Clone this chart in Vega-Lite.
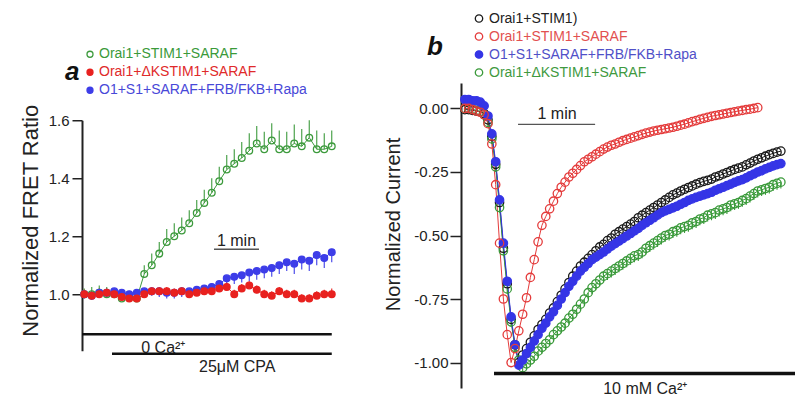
{
"$schema": "https://vega.github.io/schema/vega-lite/v6.json",
"background": "white",
"padding": {"left": 18, "top": 11, "right": 2, "bottom": 2},
"config": {"view": {"stroke": null}, "font": "Liberation Sans", "axis": {"labelFont": "Liberation Sans", "titleFont": "Liberation Sans"}, "legend": {"labelFont": "Liberation Sans", "labelLimit": 400}},
"bounds": "flush",
"center": true,
"spacing": 124,
"resolve": {"scale": {"stroke": "independent", "fill": "independent", "x": "independent", "y": "independent"}, "legend": {"stroke": "independent", "fill": "independent"}},
"datasets": {
"fret": [
{"s":"Orai1+STIM1+SARAF","t":3,"v":1.0,"eb":1.02},
{"s":"Orai1+STIM1+SARAF","t":13,"v":1.0,"eb":1.025},
{"s":"Orai1+STIM1+SARAF","t":23,"v":1.005,"eb":1.03},
{"s":"Orai1+STIM1+SARAF","t":33,"v":1.0,"eb":1.025},
{"s":"Orai1+STIM1+SARAF","t":43,"v":1.0,"eb":1.02},
{"s":"Orai1+STIM1+SARAF","t":53,"v":0.985,"eb":1.005},
{"s":"Orai1+STIM1+SARAF","t":63,"v":0.99,"eb":1.01},
{"s":"Orai1+STIM1+SARAF","t":73,"v":0.985,"eb":1.005},
{"s":"Orai1+STIM1+SARAF","t":83,"v":1.07,"eb":1.10},
{"s":"Orai1+STIM1+SARAF","t":93,"v":1.10,"eb":1.14},
{"s":"Orai1+STIM1+SARAF","t":103,"v":1.14,"eb":1.18},
{"s":"Orai1+STIM1+SARAF","t":113,"v":1.18,"eb":1.225},
{"s":"Orai1+STIM1+SARAF","t":123,"v":1.20,"eb":1.245},
{"s":"Orai1+STIM1+SARAF","t":133,"v":1.22,"eb":1.265},
{"s":"Orai1+STIM1+SARAF","t":143,"v":1.245,"eb":1.29},
{"s":"Orai1+STIM1+SARAF","t":153,"v":1.28,"eb":1.325},
{"s":"Orai1+STIM1+SARAF","t":163,"v":1.315,"eb":1.36},
{"s":"Orai1+STIM1+SARAF","t":173,"v":1.35,"eb":1.40},
{"s":"Orai1+STIM1+SARAF","t":183,"v":1.39,"eb":1.44},
{"s":"Orai1+STIM1+SARAF","t":193,"v":1.43,"eb":1.48},
{"s":"Orai1+STIM1+SARAF","t":203,"v":1.45,"eb":1.50},
{"s":"Orai1+STIM1+SARAF","t":213,"v":1.47,"eb":1.525},
{"s":"Orai1+STIM1+SARAF","t":223,"v":1.495,"eb":1.555},
{"s":"Orai1+STIM1+SARAF","t":233,"v":1.52,"eb":1.58},
{"s":"Orai1+STIM1+SARAF","t":243,"v":1.50,"eb":1.56},
{"s":"Orai1+STIM1+SARAF","t":253,"v":1.53,"eb":1.59},
{"s":"Orai1+STIM1+SARAF","t":263,"v":1.50,"eb":1.565},
{"s":"Orai1+STIM1+SARAF","t":273,"v":1.50,"eb":1.56},
{"s":"Orai1+STIM1+SARAF","t":283,"v":1.52,"eb":1.585},
{"s":"Orai1+STIM1+SARAF","t":293,"v":1.51,"eb":1.57},
{"s":"Orai1+STIM1+SARAF","t":303,"v":1.54,"eb":1.60},
{"s":"Orai1+STIM1+SARAF","t":313,"v":1.50,"eb":1.565},
{"s":"Orai1+STIM1+SARAF","t":323,"v":1.50,"eb":1.555},
{"s":"Orai1+STIM1+SARAF","t":333,"v":1.51,"eb":1.565},
{"s":"O1+S1+SARAF+FRB/FKB+Rapa","t":3,"v":1.0,"eb":0.985},
{"s":"O1+S1+SARAF+FRB/FKB+Rapa","t":13,"v":0.995,"eb":0.98},
{"s":"O1+S1+SARAF+FRB/FKB+Rapa","t":23,"v":1.005,"eb":0.99},
{"s":"O1+S1+SARAF+FRB/FKB+Rapa","t":33,"v":1.005,"eb":0.99},
{"s":"O1+S1+SARAF+FRB/FKB+Rapa","t":43,"v":1.01,"eb":0.995},
{"s":"O1+S1+SARAF+FRB/FKB+Rapa","t":53,"v":1.005,"eb":0.99},
{"s":"O1+S1+SARAF+FRB/FKB+Rapa","t":63,"v":1.0,"eb":0.985},
{"s":"O1+S1+SARAF+FRB/FKB+Rapa","t":73,"v":1.005,"eb":0.99},
{"s":"O1+S1+SARAF+FRB/FKB+Rapa","t":83,"v":1.01,"eb":0.995},
{"s":"O1+S1+SARAF+FRB/FKB+Rapa","t":93,"v":1.01,"eb":0.995},
{"s":"O1+S1+SARAF+FRB/FKB+Rapa","t":103,"v":1.01,"eb":0.99},
{"s":"O1+S1+SARAF+FRB/FKB+Rapa","t":113,"v":1.005,"eb":0.985},
{"s":"O1+S1+SARAF+FRB/FKB+Rapa","t":123,"v":1.005,"eb":0.985},
{"s":"O1+S1+SARAF+FRB/FKB+Rapa","t":133,"v":1.01,"eb":0.99},
{"s":"O1+S1+SARAF+FRB/FKB+Rapa","t":143,"v":1.01,"eb":0.99},
{"s":"O1+S1+SARAF+FRB/FKB+Rapa","t":153,"v":1.015,"eb":0.995},
{"s":"O1+S1+SARAF+FRB/FKB+Rapa","t":163,"v":1.02,"eb":1.0},
{"s":"O1+S1+SARAF+FRB/FKB+Rapa","t":173,"v":1.025,"eb":1.0},
{"s":"O1+S1+SARAF+FRB/FKB+Rapa","t":183,"v":1.035,"eb":1.01},
{"s":"O1+S1+SARAF+FRB/FKB+Rapa","t":193,"v":1.055,"eb":1.03},
{"s":"O1+S1+SARAF+FRB/FKB+Rapa","t":203,"v":1.06,"eb":1.035},
{"s":"O1+S1+SARAF+FRB/FKB+Rapa","t":213,"v":1.065,"eb":1.04},
{"s":"O1+S1+SARAF+FRB/FKB+Rapa","t":223,"v":1.075,"eb":1.045},
{"s":"O1+S1+SARAF+FRB/FKB+Rapa","t":233,"v":1.08,"eb":1.05},
{"s":"O1+S1+SARAF+FRB/FKB+Rapa","t":243,"v":1.085,"eb":1.055},
{"s":"O1+S1+SARAF+FRB/FKB+Rapa","t":253,"v":1.09,"eb":1.06},
{"s":"O1+S1+SARAF+FRB/FKB+Rapa","t":263,"v":1.10,"eb":1.07},
{"s":"O1+S1+SARAF+FRB/FKB+Rapa","t":273,"v":1.11,"eb":1.08},
{"s":"O1+S1+SARAF+FRB/FKB+Rapa","t":283,"v":1.105,"eb":1.07},
{"s":"O1+S1+SARAF+FRB/FKB+Rapa","t":293,"v":1.12,"eb":1.085},
{"s":"O1+S1+SARAF+FRB/FKB+Rapa","t":303,"v":1.115,"eb":1.08},
{"s":"O1+S1+SARAF+FRB/FKB+Rapa","t":313,"v":1.135,"eb":1.1},
{"s":"O1+S1+SARAF+FRB/FKB+Rapa","t":323,"v":1.125,"eb":1.09},
{"s":"O1+S1+SARAF+FRB/FKB+Rapa","t":333,"v":1.145,"eb":1.11},
{"s":"Orai1+ΔKSTIM1+SARAF","t":3,"v":1.0,"eb":1.015},
{"s":"Orai1+ΔKSTIM1+SARAF","t":13,"v":0.995,"eb":1.01},
{"s":"Orai1+ΔKSTIM1+SARAF","t":23,"v":1.0,"eb":1.02},
{"s":"Orai1+ΔKSTIM1+SARAF","t":33,"v":1.005,"eb":1.02},
{"s":"Orai1+ΔKSTIM1+SARAF","t":43,"v":1.0,"eb":1.015},
{"s":"Orai1+ΔKSTIM1+SARAF","t":53,"v":0.99,"eb":1.005},
{"s":"Orai1+ΔKSTIM1+SARAF","t":63,"v":0.985,"eb":1.0},
{"s":"Orai1+ΔKSTIM1+SARAF","t":73,"v":0.985,"eb":1.0},
{"s":"Orai1+ΔKSTIM1+SARAF","t":83,"v":1.0,"eb":1.015},
{"s":"Orai1+ΔKSTIM1+SARAF","t":93,"v":1.01,"eb":1.025},
{"s":"Orai1+ΔKSTIM1+SARAF","t":103,"v":1.01,"eb":1.025},
{"s":"Orai1+ΔKSTIM1+SARAF","t":113,"v":1.01,"eb":1.025},
{"s":"Orai1+ΔKSTIM1+SARAF","t":123,"v":1.005,"eb":1.02},
{"s":"Orai1+ΔKSTIM1+SARAF","t":133,"v":1.01,"eb":1.025},
{"s":"Orai1+ΔKSTIM1+SARAF","t":143,"v":1.0,"eb":1.015},
{"s":"Orai1+ΔKSTIM1+SARAF","t":153,"v":1.005,"eb":1.02},
{"s":"Orai1+ΔKSTIM1+SARAF","t":163,"v":1.01,"eb":1.025},
{"s":"Orai1+ΔKSTIM1+SARAF","t":173,"v":1.01,"eb":1.025},
{"s":"Orai1+ΔKSTIM1+SARAF","t":183,"v":1.02,"eb":1.035},
{"s":"Orai1+ΔKSTIM1+SARAF","t":193,"v":1.025,"eb":1.04},
{"s":"Orai1+ΔKSTIM1+SARAF","t":203,"v":1.0,"eb":1.015},
{"s":"Orai1+ΔKSTIM1+SARAF","t":213,"v":1.02,"eb":1.035},
{"s":"Orai1+ΔKSTIM1+SARAF","t":223,"v":1.03,"eb":1.045},
{"s":"Orai1+ΔKSTIM1+SARAF","t":233,"v":1.015,"eb":1.03},
{"s":"Orai1+ΔKSTIM1+SARAF","t":243,"v":1.0,"eb":1.015},
{"s":"Orai1+ΔKSTIM1+SARAF","t":253,"v":0.995,"eb":1.01},
{"s":"Orai1+ΔKSTIM1+SARAF","t":263,"v":1.01,"eb":1.025},
{"s":"Orai1+ΔKSTIM1+SARAF","t":273,"v":1.0,"eb":1.015},
{"s":"Orai1+ΔKSTIM1+SARAF","t":283,"v":1.0,"eb":1.015},
{"s":"Orai1+ΔKSTIM1+SARAF","t":293,"v":0.985,"eb":1.0},
{"s":"Orai1+ΔKSTIM1+SARAF","t":303,"v":0.985,"eb":1.0},
{"s":"Orai1+ΔKSTIM1+SARAF","t":313,"v":0.995,"eb":1.01},
{"s":"Orai1+ΔKSTIM1+SARAF","t":323,"v":1.0,"eb":1.015},
{"s":"Orai1+ΔKSTIM1+SARAF","t":333,"v":1.0,"eb":1.02}
],
"cur": [
{"s":"Orai1+STIM1)","t":3,"v":-0.005},{"s":"Orai1+STIM1)","t":6,"v":-0.005},{"s":"Orai1+STIM1)","t":9,"v":-0.008},{"s":"Orai1+STIM1)","t":12,"v":-0.01},{"s":"Orai1+STIM1)","t":15,"v":-0.012},{"s":"Orai1+STIM1)","t":18,"v":-0.02},{"s":"Orai1+STIM1)","t":21,"v":-0.045},{"s":"Orai1+STIM1)","t":24,"v":-0.11},{"s":"Orai1+STIM1)","t":27,"v":-0.22},{"s":"Orai1+STIM1)","t":30,"v":-0.37},
{"s":"Orai1+STIM1)","t":33,"v":-0.55},{"s":"Orai1+STIM1)","t":36,"v":-0.69},{"s":"Orai1+STIM1)","t":39,"v":-0.83},{"s":"Orai1+STIM1)","t":42,"v":-0.93},{"s":"Orai1+STIM1)","t":45,"v":-1.0},{"s":"Orai1+STIM1)","t":48,"v":-0.97},{"s":"Orai1+STIM1)","t":51,"v":-0.945},{"s":"Orai1+STIM1)","t":54,"v":-0.92},{"s":"Orai1+STIM1)","t":57,"v":-0.895},{"s":"Orai1+STIM1)","t":60,"v":-0.87},
{"s":"Orai1+STIM1)","t":63,"v":-0.85},{"s":"Orai1+STIM1)","t":66,"v":-0.83},{"s":"Orai1+STIM1)","t":69,"v":-0.805},{"s":"Orai1+STIM1)","t":72,"v":-0.785},{"s":"Orai1+STIM1)","t":75,"v":-0.76},{"s":"Orai1+STIM1)","t":78,"v":-0.735},{"s":"Orai1+STIM1)","t":81,"v":-0.71},{"s":"Orai1+STIM1)","t":84,"v":-0.685},{"s":"Orai1+STIM1)","t":87,"v":-0.66},{"s":"Orai1+STIM1)","t":90,"v":-0.64},
{"s":"Orai1+STIM1)","t":93,"v":-0.62},{"s":"Orai1+STIM1)","t":96,"v":-0.605},{"s":"Orai1+STIM1)","t":99,"v":-0.59},{"s":"Orai1+STIM1)","t":102,"v":-0.575},{"s":"Orai1+STIM1)","t":105,"v":-0.56},{"s":"Orai1+STIM1)","t":108,"v":-0.545},{"s":"Orai1+STIM1)","t":111,"v":-0.535},{"s":"Orai1+STIM1)","t":114,"v":-0.52},{"s":"Orai1+STIM1)","t":117,"v":-0.51},{"s":"Orai1+STIM1)","t":120,"v":-0.495},
{"s":"Orai1+STIM1)","t":123,"v":-0.485},{"s":"Orai1+STIM1)","t":126,"v":-0.475},{"s":"Orai1+STIM1)","t":129,"v":-0.465},{"s":"Orai1+STIM1)","t":132,"v":-0.455},{"s":"Orai1+STIM1)","t":135,"v":-0.445},{"s":"Orai1+STIM1)","t":138,"v":-0.43},{"s":"Orai1+STIM1)","t":141,"v":-0.42},{"s":"Orai1+STIM1)","t":144,"v":-0.41},{"s":"Orai1+STIM1)","t":147,"v":-0.4},{"s":"Orai1+STIM1)","t":150,"v":-0.39},
{"s":"Orai1+STIM1)","t":153,"v":-0.38},{"s":"Orai1+STIM1)","t":156,"v":-0.37},{"s":"Orai1+STIM1)","t":159,"v":-0.36},{"s":"Orai1+STIM1)","t":162,"v":-0.35},{"s":"Orai1+STIM1)","t":165,"v":-0.34},{"s":"Orai1+STIM1)","t":168,"v":-0.333},{"s":"Orai1+STIM1)","t":171,"v":-0.325},{"s":"Orai1+STIM1)","t":174,"v":-0.318},{"s":"Orai1+STIM1)","t":177,"v":-0.311},{"s":"Orai1+STIM1)","t":180,"v":-0.305},
{"s":"Orai1+STIM1)","t":183,"v":-0.298},{"s":"Orai1+STIM1)","t":186,"v":-0.292},{"s":"Orai1+STIM1)","t":189,"v":-0.287},{"s":"Orai1+STIM1)","t":192,"v":-0.283},{"s":"Orai1+STIM1)","t":195,"v":-0.278},{"s":"Orai1+STIM1)","t":198,"v":-0.27},{"s":"Orai1+STIM1)","t":201,"v":-0.265},{"s":"Orai1+STIM1)","t":204,"v":-0.258},{"s":"Orai1+STIM1)","t":207,"v":-0.252},{"s":"Orai1+STIM1)","t":210,"v":-0.246},
{"s":"Orai1+STIM1)","t":213,"v":-0.24},{"s":"Orai1+STIM1)","t":216,"v":-0.235},{"s":"Orai1+STIM1)","t":219,"v":-0.23},{"s":"Orai1+STIM1)","t":222,"v":-0.222},{"s":"Orai1+STIM1)","t":225,"v":-0.215},{"s":"Orai1+STIM1)","t":228,"v":-0.207},{"s":"Orai1+STIM1)","t":231,"v":-0.2},{"s":"Orai1+STIM1)","t":234,"v":-0.194},{"s":"Orai1+STIM1)","t":237,"v":-0.188},{"s":"Orai1+STIM1)","t":240,"v":-0.182},
{"s":"Orai1+STIM1)","t":243,"v":-0.177},{"s":"Orai1+STIM1)","t":246,"v":-0.172},{"s":"Orai1+STIM1)","t":249,"v":-0.168},
{"s":"Orai1+ΔKSTIM1+SARAF","t":3,"v":0.0,"eb":-0.02},{"s":"Orai1+ΔKSTIM1+SARAF","t":6,"v":0.0,"eb":-0.02},{"s":"Orai1+ΔKSTIM1+SARAF","t":9,"v":-0.003,"eb":-0.023},{"s":"Orai1+ΔKSTIM1+SARAF","t":12,"v":-0.008,"eb":-0.028},{"s":"Orai1+ΔKSTIM1+SARAF","t":15,"v":-0.012,"eb":-0.032},{"s":"Orai1+ΔKSTIM1+SARAF","t":18,"v":-0.025,"eb":-0.045},{"s":"Orai1+ΔKSTIM1+SARAF","t":21,"v":-0.055,"eb":-0.075},{"s":"Orai1+ΔKSTIM1+SARAF","t":24,"v":-0.12,"eb":-0.14},{"s":"Orai1+ΔKSTIM1+SARAF","t":27,"v":-0.23,"eb":-0.25},{"s":"Orai1+ΔKSTIM1+SARAF","t":30,"v":-0.39,"eb":-0.41},
{"s":"Orai1+ΔKSTIM1+SARAF","t":33,"v":-0.56,"eb":-0.58},{"s":"Orai1+ΔKSTIM1+SARAF","t":36,"v":-0.71,"eb":-0.73},{"s":"Orai1+ΔKSTIM1+SARAF","t":39,"v":-0.84,"eb":-0.86},{"s":"Orai1+ΔKSTIM1+SARAF","t":42,"v":-0.94,"eb":-0.96},{"s":"Orai1+ΔKSTIM1+SARAF","t":45,"v":-0.99,"eb":-1.01},{"s":"Orai1+ΔKSTIM1+SARAF","t":48,"v":-1.02,"eb":-1.04},{"s":"Orai1+ΔKSTIM1+SARAF","t":51,"v":-1.005,"eb":-1.03},{"s":"Orai1+ΔKSTIM1+SARAF","t":54,"v":-0.99,"eb":-1.015},{"s":"Orai1+ΔKSTIM1+SARAF","t":57,"v":-0.975,"eb":-1.0},{"s":"Orai1+ΔKSTIM1+SARAF","t":60,"v":-0.955,"eb":-0.98},
{"s":"Orai1+ΔKSTIM1+SARAF","t":63,"v":-0.94,"eb":-0.965},{"s":"Orai1+ΔKSTIM1+SARAF","t":66,"v":-0.925,"eb":-0.95},{"s":"Orai1+ΔKSTIM1+SARAF","t":69,"v":-0.91,"eb":-0.935},{"s":"Orai1+ΔKSTIM1+SARAF","t":72,"v":-0.89,"eb":-0.915},{"s":"Orai1+ΔKSTIM1+SARAF","t":75,"v":-0.875,"eb":-0.9},{"s":"Orai1+ΔKSTIM1+SARAF","t":78,"v":-0.86,"eb":-0.885},{"s":"Orai1+ΔKSTIM1+SARAF","t":81,"v":-0.845,"eb":-0.87},{"s":"Orai1+ΔKSTIM1+SARAF","t":84,"v":-0.825,"eb":-0.85},{"s":"Orai1+ΔKSTIM1+SARAF","t":87,"v":-0.81,"eb":-0.835},{"s":"Orai1+ΔKSTIM1+SARAF","t":90,"v":-0.79,"eb":-0.815},
{"s":"Orai1+ΔKSTIM1+SARAF","t":93,"v":-0.77,"eb":-0.795},{"s":"Orai1+ΔKSTIM1+SARAF","t":96,"v":-0.75,"eb":-0.775},{"s":"Orai1+ΔKSTIM1+SARAF","t":99,"v":-0.725,"eb":-0.75},{"s":"Orai1+ΔKSTIM1+SARAF","t":102,"v":-0.705,"eb":-0.73},{"s":"Orai1+ΔKSTIM1+SARAF","t":105,"v":-0.69,"eb":-0.715},{"s":"Orai1+ΔKSTIM1+SARAF","t":108,"v":-0.675,"eb":-0.7},{"s":"Orai1+ΔKSTIM1+SARAF","t":111,"v":-0.66,"eb":-0.685},{"s":"Orai1+ΔKSTIM1+SARAF","t":114,"v":-0.65,"eb":-0.675},{"s":"Orai1+ΔKSTIM1+SARAF","t":117,"v":-0.64,"eb":-0.665},{"s":"Orai1+ΔKSTIM1+SARAF","t":120,"v":-0.63,"eb":-0.655},
{"s":"Orai1+ΔKSTIM1+SARAF","t":123,"v":-0.62,"eb":-0.645},{"s":"Orai1+ΔKSTIM1+SARAF","t":126,"v":-0.61,"eb":-0.635},{"s":"Orai1+ΔKSTIM1+SARAF","t":129,"v":-0.6,"eb":-0.625},{"s":"Orai1+ΔKSTIM1+SARAF","t":132,"v":-0.59,"eb":-0.615},{"s":"Orai1+ΔKSTIM1+SARAF","t":135,"v":-0.58,"eb":-0.605},{"s":"Orai1+ΔKSTIM1+SARAF","t":138,"v":-0.575,"eb":-0.6},{"s":"Orai1+ΔKSTIM1+SARAF","t":141,"v":-0.565,"eb":-0.59},{"s":"Orai1+ΔKSTIM1+SARAF","t":144,"v":-0.55,"eb":-0.575},{"s":"Orai1+ΔKSTIM1+SARAF","t":147,"v":-0.54,"eb":-0.565},{"s":"Orai1+ΔKSTIM1+SARAF","t":150,"v":-0.53,"eb":-0.555},
{"s":"Orai1+ΔKSTIM1+SARAF","t":153,"v":-0.52,"eb":-0.545},{"s":"Orai1+ΔKSTIM1+SARAF","t":156,"v":-0.51,"eb":-0.535},{"s":"Orai1+ΔKSTIM1+SARAF","t":159,"v":-0.5,"eb":-0.525},{"s":"Orai1+ΔKSTIM1+SARAF","t":162,"v":-0.495,"eb":-0.52},{"s":"Orai1+ΔKSTIM1+SARAF","t":165,"v":-0.485,"eb":-0.51},{"s":"Orai1+ΔKSTIM1+SARAF","t":168,"v":-0.48,"eb":-0.505},{"s":"Orai1+ΔKSTIM1+SARAF","t":171,"v":-0.47,"eb":-0.495},{"s":"Orai1+ΔKSTIM1+SARAF","t":174,"v":-0.465,"eb":-0.49},{"s":"Orai1+ΔKSTIM1+SARAF","t":177,"v":-0.46,"eb":-0.485},{"s":"Orai1+ΔKSTIM1+SARAF","t":180,"v":-0.45,"eb":-0.475},
{"s":"Orai1+ΔKSTIM1+SARAF","t":183,"v":-0.445,"eb":-0.47},{"s":"Orai1+ΔKSTIM1+SARAF","t":186,"v":-0.435,"eb":-0.46},{"s":"Orai1+ΔKSTIM1+SARAF","t":189,"v":-0.43,"eb":-0.455},{"s":"Orai1+ΔKSTIM1+SARAF","t":192,"v":-0.42,"eb":-0.445},{"s":"Orai1+ΔKSTIM1+SARAF","t":195,"v":-0.415,"eb":-0.44},{"s":"Orai1+ΔKSTIM1+SARAF","t":198,"v":-0.41,"eb":-0.435},{"s":"Orai1+ΔKSTIM1+SARAF","t":201,"v":-0.4,"eb":-0.425},{"s":"Orai1+ΔKSTIM1+SARAF","t":204,"v":-0.395,"eb":-0.42},{"s":"Orai1+ΔKSTIM1+SARAF","t":207,"v":-0.39,"eb":-0.415},{"s":"Orai1+ΔKSTIM1+SARAF","t":210,"v":-0.38,"eb":-0.405},
{"s":"Orai1+ΔKSTIM1+SARAF","t":213,"v":-0.375,"eb":-0.4},{"s":"Orai1+ΔKSTIM1+SARAF","t":216,"v":-0.37,"eb":-0.395},{"s":"Orai1+ΔKSTIM1+SARAF","t":219,"v":-0.362,"eb":-0.387},{"s":"Orai1+ΔKSTIM1+SARAF","t":222,"v":-0.355,"eb":-0.38},{"s":"Orai1+ΔKSTIM1+SARAF","t":225,"v":-0.345,"eb":-0.37},{"s":"Orai1+ΔKSTIM1+SARAF","t":228,"v":-0.335,"eb":-0.36},{"s":"Orai1+ΔKSTIM1+SARAF","t":231,"v":-0.325,"eb":-0.35},{"s":"Orai1+ΔKSTIM1+SARAF","t":234,"v":-0.32,"eb":-0.345},{"s":"Orai1+ΔKSTIM1+SARAF","t":237,"v":-0.315,"eb":-0.34},{"s":"Orai1+ΔKSTIM1+SARAF","t":240,"v":-0.31,"eb":-0.335},
{"s":"Orai1+ΔKSTIM1+SARAF","t":243,"v":-0.3,"eb":-0.325},{"s":"Orai1+ΔKSTIM1+SARAF","t":246,"v":-0.295,"eb":-0.32},{"s":"Orai1+ΔKSTIM1+SARAF","t":249,"v":-0.29,"eb":-0.315},
{"s":"O1+S1+SARAF+FRB/FKB+Rapa","t":3,"v":0.035},{"s":"O1+S1+SARAF+FRB/FKB+Rapa","t":6,"v":0.035},{"s":"O1+S1+SARAF+FRB/FKB+Rapa","t":9,"v":0.03},{"s":"O1+S1+SARAF+FRB/FKB+Rapa","t":12,"v":0.03},{"s":"O1+S1+SARAF+FRB/FKB+Rapa","t":15,"v":0.025},{"s":"O1+S1+SARAF+FRB/FKB+Rapa","t":18,"v":0.01},{"s":"O1+S1+SARAF+FRB/FKB+Rapa","t":21,"v":-0.03},{"s":"O1+S1+SARAF+FRB/FKB+Rapa","t":24,"v":-0.1},{"s":"O1+S1+SARAF+FRB/FKB+Rapa","t":27,"v":-0.21},{"s":"O1+S1+SARAF+FRB/FKB+Rapa","t":30,"v":-0.36},
{"s":"O1+S1+SARAF+FRB/FKB+Rapa","t":33,"v":-0.53},{"s":"O1+S1+SARAF+FRB/FKB+Rapa","t":36,"v":-0.68},{"s":"O1+S1+SARAF+FRB/FKB+Rapa","t":39,"v":-0.82},{"s":"O1+S1+SARAF+FRB/FKB+Rapa","t":42,"v":-0.93},{"s":"O1+S1+SARAF+FRB/FKB+Rapa","t":45,"v":-1.01},{"s":"O1+S1+SARAF+FRB/FKB+Rapa","t":48,"v":-0.99},{"s":"O1+S1+SARAF+FRB/FKB+Rapa","t":51,"v":-0.965},{"s":"O1+S1+SARAF+FRB/FKB+Rapa","t":54,"v":-0.94},{"s":"O1+S1+SARAF+FRB/FKB+Rapa","t":57,"v":-0.915},{"s":"O1+S1+SARAF+FRB/FKB+Rapa","t":60,"v":-0.89},
{"s":"O1+S1+SARAF+FRB/FKB+Rapa","t":63,"v":-0.865},{"s":"O1+S1+SARAF+FRB/FKB+Rapa","t":66,"v":-0.845},{"s":"O1+S1+SARAF+FRB/FKB+Rapa","t":69,"v":-0.82},{"s":"O1+S1+SARAF+FRB/FKB+Rapa","t":72,"v":-0.8},{"s":"O1+S1+SARAF+FRB/FKB+Rapa","t":75,"v":-0.775},{"s":"O1+S1+SARAF+FRB/FKB+Rapa","t":78,"v":-0.75},{"s":"O1+S1+SARAF+FRB/FKB+Rapa","t":81,"v":-0.725},{"s":"O1+S1+SARAF+FRB/FKB+Rapa","t":84,"v":-0.7},{"s":"O1+S1+SARAF+FRB/FKB+Rapa","t":87,"v":-0.68},{"s":"O1+S1+SARAF+FRB/FKB+Rapa","t":90,"v":-0.66},
{"s":"O1+S1+SARAF+FRB/FKB+Rapa","t":93,"v":-0.64},{"s":"O1+S1+SARAF+FRB/FKB+Rapa","t":96,"v":-0.625},{"s":"O1+S1+SARAF+FRB/FKB+Rapa","t":99,"v":-0.61},{"s":"O1+S1+SARAF+FRB/FKB+Rapa","t":102,"v":-0.595},{"s":"O1+S1+SARAF+FRB/FKB+Rapa","t":105,"v":-0.585},{"s":"O1+S1+SARAF+FRB/FKB+Rapa","t":108,"v":-0.575},{"s":"O1+S1+SARAF+FRB/FKB+Rapa","t":111,"v":-0.565},{"s":"O1+S1+SARAF+FRB/FKB+Rapa","t":114,"v":-0.553},{"s":"O1+S1+SARAF+FRB/FKB+Rapa","t":117,"v":-0.542},{"s":"O1+S1+SARAF+FRB/FKB+Rapa","t":120,"v":-0.532},
{"s":"O1+S1+SARAF+FRB/FKB+Rapa","t":123,"v":-0.522},{"s":"O1+S1+SARAF+FRB/FKB+Rapa","t":126,"v":-0.512},{"s":"O1+S1+SARAF+FRB/FKB+Rapa","t":129,"v":-0.502},{"s":"O1+S1+SARAF+FRB/FKB+Rapa","t":132,"v":-0.492},{"s":"O1+S1+SARAF+FRB/FKB+Rapa","t":135,"v":-0.482},{"s":"O1+S1+SARAF+FRB/FKB+Rapa","t":138,"v":-0.472},{"s":"O1+S1+SARAF+FRB/FKB+Rapa","t":141,"v":-0.46},{"s":"O1+S1+SARAF+FRB/FKB+Rapa","t":144,"v":-0.45},{"s":"O1+S1+SARAF+FRB/FKB+Rapa","t":147,"v":-0.44},{"s":"O1+S1+SARAF+FRB/FKB+Rapa","t":150,"v":-0.43},
{"s":"O1+S1+SARAF+FRB/FKB+Rapa","t":153,"v":-0.42},{"s":"O1+S1+SARAF+FRB/FKB+Rapa","t":156,"v":-0.41},{"s":"O1+S1+SARAF+FRB/FKB+Rapa","t":159,"v":-0.403},{"s":"O1+S1+SARAF+FRB/FKB+Rapa","t":162,"v":-0.397},{"s":"O1+S1+SARAF+FRB/FKB+Rapa","t":165,"v":-0.391},{"s":"O1+S1+SARAF+FRB/FKB+Rapa","t":168,"v":-0.385},{"s":"O1+S1+SARAF+FRB/FKB+Rapa","t":171,"v":-0.377},{"s":"O1+S1+SARAF+FRB/FKB+Rapa","t":174,"v":-0.37},{"s":"O1+S1+SARAF+FRB/FKB+Rapa","t":177,"v":-0.362},{"s":"O1+S1+SARAF+FRB/FKB+Rapa","t":180,"v":-0.356},
{"s":"O1+S1+SARAF+FRB/FKB+Rapa","t":183,"v":-0.35},{"s":"O1+S1+SARAF+FRB/FKB+Rapa","t":186,"v":-0.345},{"s":"O1+S1+SARAF+FRB/FKB+Rapa","t":189,"v":-0.34},{"s":"O1+S1+SARAF+FRB/FKB+Rapa","t":192,"v":-0.335},{"s":"O1+S1+SARAF+FRB/FKB+Rapa","t":195,"v":-0.33},{"s":"O1+S1+SARAF+FRB/FKB+Rapa","t":198,"v":-0.322},{"s":"O1+S1+SARAF+FRB/FKB+Rapa","t":201,"v":-0.316},{"s":"O1+S1+SARAF+FRB/FKB+Rapa","t":204,"v":-0.31},{"s":"O1+S1+SARAF+FRB/FKB+Rapa","t":207,"v":-0.304},{"s":"O1+S1+SARAF+FRB/FKB+Rapa","t":210,"v":-0.298},
{"s":"O1+S1+SARAF+FRB/FKB+Rapa","t":213,"v":-0.291},{"s":"O1+S1+SARAF+FRB/FKB+Rapa","t":216,"v":-0.285},{"s":"O1+S1+SARAF+FRB/FKB+Rapa","t":219,"v":-0.28},{"s":"O1+S1+SARAF+FRB/FKB+Rapa","t":222,"v":-0.273},{"s":"O1+S1+SARAF+FRB/FKB+Rapa","t":225,"v":-0.265},{"s":"O1+S1+SARAF+FRB/FKB+Rapa","t":228,"v":-0.258},{"s":"O1+S1+SARAF+FRB/FKB+Rapa","t":231,"v":-0.25},{"s":"O1+S1+SARAF+FRB/FKB+Rapa","t":234,"v":-0.245},{"s":"O1+S1+SARAF+FRB/FKB+Rapa","t":237,"v":-0.238},{"s":"O1+S1+SARAF+FRB/FKB+Rapa","t":240,"v":-0.232},
{"s":"O1+S1+SARAF+FRB/FKB+Rapa","t":243,"v":-0.226},{"s":"O1+S1+SARAF+FRB/FKB+Rapa","t":246,"v":-0.221},{"s":"O1+S1+SARAF+FRB/FKB+Rapa","t":249,"v":-0.217},
{"s":"Orai1+STIM1+SARAF","t":3,"v":0.0},{"s":"Orai1+STIM1+SARAF","t":6,"v":0.0},{"s":"Orai1+STIM1+SARAF","t":9,"v":-0.005},{"s":"Orai1+STIM1+SARAF","t":12,"v":-0.01},{"s":"Orai1+STIM1+SARAF","t":15,"v":-0.015},{"s":"Orai1+STIM1+SARAF","t":18,"v":-0.025},{"s":"Orai1+STIM1+SARAF","t":21,"v":-0.06},{"s":"Orai1+STIM1+SARAF","t":24,"v":-0.14},{"s":"Orai1+STIM1+SARAF","t":27,"v":-0.3},{"s":"Orai1+STIM1+SARAF","t":30,"v":-0.53},
{"s":"Orai1+STIM1+SARAF","t":33,"v":-0.75},{"s":"Orai1+STIM1+SARAF","t":36,"v":-0.89},{"s":"Orai1+STIM1+SARAF","t":39,"v":-1.0},{"s":"Orai1+STIM1+SARAF","t":42,"v":-0.945},{"s":"Orai1+STIM1+SARAF","t":45,"v":-0.875},{"s":"Orai1+STIM1+SARAF","t":48,"v":-0.81},{"s":"Orai1+STIM1+SARAF","t":51,"v":-0.745},{"s":"Orai1+STIM1+SARAF","t":54,"v":-0.665},{"s":"Orai1+STIM1+SARAF","t":57,"v":-0.595},{"s":"Orai1+STIM1+SARAF","t":60,"v":-0.525},
{"s":"Orai1+STIM1+SARAF","t":63,"v":-0.46},{"s":"Orai1+STIM1+SARAF","t":66,"v":-0.425},{"s":"Orai1+STIM1+SARAF","t":69,"v":-0.395},{"s":"Orai1+STIM1+SARAF","t":72,"v":-0.365},{"s":"Orai1+STIM1+SARAF","t":75,"v":-0.335},{"s":"Orai1+STIM1+SARAF","t":78,"v":-0.31},{"s":"Orai1+STIM1+SARAF","t":81,"v":-0.29},{"s":"Orai1+STIM1+SARAF","t":84,"v":-0.27},{"s":"Orai1+STIM1+SARAF","t":87,"v":-0.255},{"s":"Orai1+STIM1+SARAF","t":90,"v":-0.24},
{"s":"Orai1+STIM1+SARAF","t":93,"v":-0.225},{"s":"Orai1+STIM1+SARAF","t":96,"v":-0.21},{"s":"Orai1+STIM1+SARAF","t":99,"v":-0.2},{"s":"Orai1+STIM1+SARAF","t":102,"v":-0.19},{"s":"Orai1+STIM1+SARAF","t":105,"v":-0.18},{"s":"Orai1+STIM1+SARAF","t":108,"v":-0.17},{"s":"Orai1+STIM1+SARAF","t":111,"v":-0.16},{"s":"Orai1+STIM1+SARAF","t":114,"v":-0.152},{"s":"Orai1+STIM1+SARAF","t":117,"v":-0.145},{"s":"Orai1+STIM1+SARAF","t":120,"v":-0.14},
{"s":"Orai1+STIM1+SARAF","t":123,"v":-0.133},{"s":"Orai1+STIM1+SARAF","t":126,"v":-0.127},{"s":"Orai1+STIM1+SARAF","t":129,"v":-0.122},{"s":"Orai1+STIM1+SARAF","t":132,"v":-0.117},{"s":"Orai1+STIM1+SARAF","t":135,"v":-0.112},{"s":"Orai1+STIM1+SARAF","t":138,"v":-0.107},{"s":"Orai1+STIM1+SARAF","t":141,"v":-0.102},{"s":"Orai1+STIM1+SARAF","t":144,"v":-0.097},{"s":"Orai1+STIM1+SARAF","t":147,"v":-0.093},{"s":"Orai1+STIM1+SARAF","t":150,"v":-0.089},
{"s":"Orai1+STIM1+SARAF","t":153,"v":-0.086},{"s":"Orai1+STIM1+SARAF","t":156,"v":-0.083},{"s":"Orai1+STIM1+SARAF","t":159,"v":-0.08},{"s":"Orai1+STIM1+SARAF","t":162,"v":-0.077},{"s":"Orai1+STIM1+SARAF","t":165,"v":-0.074},{"s":"Orai1+STIM1+SARAF","t":168,"v":-0.07},{"s":"Orai1+STIM1+SARAF","t":171,"v":-0.066},{"s":"Orai1+STIM1+SARAF","t":174,"v":-0.062},{"s":"Orai1+STIM1+SARAF","t":177,"v":-0.057},{"s":"Orai1+STIM1+SARAF","t":180,"v":-0.052},
{"s":"Orai1+STIM1+SARAF","t":183,"v":-0.048},{"s":"Orai1+STIM1+SARAF","t":186,"v":-0.043},{"s":"Orai1+STIM1+SARAF","t":189,"v":-0.039},{"s":"Orai1+STIM1+SARAF","t":192,"v":-0.035},{"s":"Orai1+STIM1+SARAF","t":195,"v":-0.031},{"s":"Orai1+STIM1+SARAF","t":198,"v":-0.028},{"s":"Orai1+STIM1+SARAF","t":201,"v":-0.025},{"s":"Orai1+STIM1+SARAF","t":204,"v":-0.022},{"s":"Orai1+STIM1+SARAF","t":207,"v":-0.019},{"s":"Orai1+STIM1+SARAF","t":210,"v":-0.016},
{"s":"Orai1+STIM1+SARAF","t":213,"v":-0.013},{"s":"Orai1+STIM1+SARAF","t":216,"v":-0.01},{"s":"Orai1+STIM1+SARAF","t":219,"v":-0.008},{"s":"Orai1+STIM1+SARAF","t":222,"v":-0.005},{"s":"Orai1+STIM1+SARAF","t":225,"v":-0.003},{"s":"Orai1+STIM1+SARAF","t":228,"v":0.0},{"s":"Orai1+STIM1+SARAF","t":231,"v":0.003}
]
},
"hconcat": [
{
"width": 255, "height": 230.5,
"layer": [
{"data": {"name": "fret"},
 "encoding": {
  "x": {"field": "t", "type": "quantitative", "scale": {"domain": [0, 340], "nice": false, "zero": false}, "axis": null},
  "y": {"field": "v", "type": "quantitative", "scale": {"domain": [0.805, 1.6], "nice": false, "zero": false},
   "axis": {"values": [1.0, 1.2, 1.4, 1.6], "format": ".1f", "title": "Normalized FRET Ratio", "titleFontSize": 22, "titleFontWeight": "normal", "titleColor": "#222", "titleX": -52, "titleY": 100, "titleAngle": -90, "titleBaseline": "middle", "titleAlign": "center", "labelFontSize": 15, "labelColor": "#222", "labelPadding": 3, "tickSize": 10, "tickWidth": 1.5, "tickColor": "#222", "domainColor": "#222", "domainWidth": 2, "grid": false}}},
 "layer": [
 {"mark": {"type": "line", "strokeWidth": 1},
  "encoding": {
   "stroke": {"field": "s", "type": "nominal", "scale": {"domain": ["Orai1+STIM1+SARAF", "Orai1+ΔKSTIM1+SARAF", "O1+S1+SARAF+FRB/FKB+Rapa"], "range": ["#3c9a3c", "#e8211f", "#3d3de8"]},
    "legend": {"orient": "none", "legendX": 1, "legendY": -73, "title": null, "padding": 0, "symbolType": "circle", "symbolSize": 36, "symbolStrokeWidth": 1.3, "labelFontSize": 14, "labelOffset": 2, "rowPadding": 4, "labelColor": {"expr": "['#3a9a3a','#e02a2a','#4848d8'][datum.index]"}}}}},
 {"mark": {"type": "rule", "strokeWidth": 1.1},
  "encoding": {
   "y2": {"field": "eb"},
   "stroke": {"field": "s", "type": "nominal", "scale": {"domain": ["Orai1+STIM1+SARAF", "Orai1+ΔKSTIM1+SARAF", "O1+S1+SARAF+FRB/FKB+Rapa"], "range": ["#3c9a3c", "#e8211f", "#3d3de8"]},
    "legend": {"orient": "none", "legendX": 1, "legendY": -73, "title": null, "padding": 0, "symbolType": "circle", "symbolSize": 36, "symbolStrokeWidth": 1.3, "labelFontSize": 14, "labelOffset": 2, "rowPadding": 4, "labelColor": {"expr": "['#3a9a3a','#e02a2a','#4848d8'][datum.index]"}}}}},
 {"mark": {"type": "point", "shape": "circle", "filled": true, "size": 45, "strokeWidth": 1.3, "opacity": 1},
  "encoding": {
   "stroke": {"field": "s", "type": "nominal", "scale": {"domain": ["Orai1+STIM1+SARAF", "Orai1+ΔKSTIM1+SARAF", "O1+S1+SARAF+FRB/FKB+Rapa"], "range": ["#3c9a3c", "#e8211f", "#3d3de8"]},
    "legend": {"orient": "none", "legendX": 1, "legendY": -73, "title": null, "padding": 0, "symbolType": "circle", "symbolSize": 36, "symbolStrokeWidth": 1.3, "labelFontSize": 14, "labelOffset": 2, "rowPadding": 4, "labelColor": {"expr": "['#3a9a3a','#e02a2a','#4848d8'][datum.index]"}}},
   "fill": {"field": "s", "type": "nominal", "scale": {"domain": ["Orai1+STIM1+SARAF", "Orai1+ΔKSTIM1+SARAF", "O1+S1+SARAF+FRB/FKB+Rapa"], "range": ["transparent", "#e8211f", "#3d3de8"]},
    "legend": {"orient": "none", "legendX": 1, "legendY": -73, "title": null, "padding": 0, "symbolType": "circle", "symbolSize": 36, "symbolStrokeWidth": 1.3, "labelFontSize": 14, "labelOffset": 2, "rowPadding": 4, "labelColor": {"expr": "['#3a9a3a','#e02a2a','#4848d8'][datum.index]"}}}}}
 ]},
{"data": {"values": [{}]}, "mark": {"type": "rule", "strokeWidth": 2.5, "color": "#111"},
 "encoding": {"x": {"datum": 0, "type": "quantitative", "scale": {"domain": [0, 340], "nice": false, "zero": false}, "axis": null}, "x2": {"datum": 333},
  "y": {"datum": 0.862, "type": "quantitative", "scale": {"domain": [0.805, 1.6], "nice": false, "zero": false},
   "axis": {"values": [1.0, 1.2, 1.4, 1.6], "format": ".1f", "title": "Normalized FRET Ratio", "titleFontSize": 22, "titleFontWeight": "normal", "titleColor": "#222", "titleX": -52, "titleY": 100, "titleAngle": -90, "titleBaseline": "middle", "titleAlign": "center", "labelFontSize": 15, "labelColor": "#222", "labelPadding": 3, "tickSize": 10, "tickWidth": 1.5, "tickColor": "#222", "domainColor": "#222", "domainWidth": 2, "grid": false}}}},
{"data": {"values": [{}]}, "mark": {"type": "rule", "strokeWidth": 2.5, "color": "#111"},
 "encoding": {"x": {"datum": 40, "type": "quantitative", "scale": {"domain": [0, 340], "nice": false, "zero": false}, "axis": null}, "x2": {"datum": 333},
  "y": {"datum": 0.795, "type": "quantitative", "scale": {"domain": [0.805, 1.6], "nice": false, "zero": false},
   "axis": {"values": [1.0, 1.2, 1.4, 1.6], "format": ".1f", "title": "Normalized FRET Ratio", "titleFontSize": 22, "titleFontWeight": "normal", "titleColor": "#222", "titleX": -52, "titleY": 100, "titleAngle": -90, "titleBaseline": "middle", "titleAlign": "center", "labelFontSize": 15, "labelColor": "#222", "labelPadding": 3, "tickSize": 10, "tickWidth": 1.5, "tickColor": "#222", "domainColor": "#222", "domainWidth": 2, "grid": false}}}},
{"data": {"values": [{}]}, "mark": {"type": "rule", "strokeWidth": 1.3, "color": "#555"},
 "encoding": {"x": {"datum": 176, "type": "quantitative", "scale": {"domain": [0, 340], "nice": false, "zero": false}, "axis": null}, "x2": {"datum": 236},
  "y": {"datum": 1.155, "type": "quantitative", "scale": {"domain": [0.805, 1.6], "nice": false, "zero": false},
   "axis": {"values": [1.0, 1.2, 1.4, 1.6], "format": ".1f", "title": "Normalized FRET Ratio", "titleFontSize": 22, "titleFontWeight": "normal", "titleColor": "#222", "titleX": -52, "titleY": 100, "titleAngle": -90, "titleBaseline": "middle", "titleAlign": "center", "labelFontSize": 15, "labelColor": "#222", "labelPadding": 3, "tickSize": 10, "tickWidth": 1.5, "tickColor": "#222", "domainColor": "#222", "domainWidth": 2, "grid": false}}}},
{"data": {"values": [{}]}, "mark": {"type": "text", "text": "1 min", "fontSize": 16, "font": "Liberation Sans", "color": "#222", "baseline": "middle", "align": "center"},
 "encoding": {"x": {"datum": 206, "type": "quantitative", "scale": {"domain": [0, 340], "nice": false, "zero": false}, "axis": null},
  "y": {"datum": 1.183, "type": "quantitative", "scale": {"domain": [0.805, 1.6], "nice": false, "zero": false},
   "axis": {"values": [1.0, 1.2, 1.4, 1.6], "format": ".1f", "title": "Normalized FRET Ratio", "titleFontSize": 22, "titleFontWeight": "normal", "titleColor": "#222", "titleX": -52, "titleY": 100, "titleAngle": -90, "titleBaseline": "middle", "titleAlign": "center", "labelFontSize": 15, "labelColor": "#222", "labelPadding": 3, "tickSize": 10, "tickWidth": 1.5, "tickColor": "#222", "domainColor": "#222", "domainWidth": 2, "grid": false}}}},
{"data": {"values": [{}]}, "mark": {"type": "text", "text": "0 Ca²⁺", "fontSize": 16, "font": "Liberation Sans", "color": "#222", "baseline": "middle", "align": "left"},
 "encoding": {"x": {"datum": 79, "type": "quantitative", "scale": {"domain": [0, 340], "nice": false, "zero": false}, "axis": null},
  "y": {"datum": 0.814, "type": "quantitative", "scale": {"domain": [0.805, 1.6], "nice": false, "zero": false},
   "axis": {"values": [1.0, 1.2, 1.4, 1.6], "format": ".1f", "title": "Normalized FRET Ratio", "titleFontSize": 22, "titleFontWeight": "normal", "titleColor": "#222", "titleX": -52, "titleY": 100, "titleAngle": -90, "titleBaseline": "middle", "titleAlign": "center", "labelFontSize": 15, "labelColor": "#222", "labelPadding": 3, "tickSize": 10, "tickWidth": 1.5, "tickColor": "#222", "domainColor": "#222", "domainWidth": 2, "grid": false}}}},
{"data": {"values": [{}]}, "mark": {"type": "text", "text": "25μM CPA", "fontSize": 16, "font": "Liberation Sans", "color": "#222", "baseline": "middle", "align": "center"},
 "encoding": {"x": {"datum": 207, "type": "quantitative", "scale": {"domain": [0, 340], "nice": false, "zero": false}, "axis": null},
  "y": {"datum": 0.748, "type": "quantitative", "scale": {"domain": [0.805, 1.6], "nice": false, "zero": false},
   "axis": {"values": [1.0, 1.2, 1.4, 1.6], "format": ".1f", "title": "Normalized FRET Ratio", "titleFontSize": 22, "titleFontWeight": "normal", "titleColor": "#222", "titleX": -52, "titleY": 100, "titleAngle": -90, "titleBaseline": "middle", "titleAlign": "center", "labelFontSize": 15, "labelColor": "#222", "labelPadding": 3, "tickSize": 10, "tickWidth": 1.5, "tickColor": "#222", "domainColor": "#222", "domainWidth": 2, "grid": false}}}},
{"data": {"values": [{}]}, "mark": {"type": "text", "text": "a", "fontSize": 26, "font": "Liberation Sans", "fontWeight": "bold", "fontStyle": "italic", "color": "#111", "baseline": "middle", "align": "center"},
 "encoding": {"x": {"datum": -13, "type": "quantitative", "scale": {"domain": [0, 340], "nice": false, "zero": false}, "axis": null},
  "y": {"datum": 1.766, "type": "quantitative", "scale": {"domain": [0.805, 1.6], "nice": false, "zero": false},
   "axis": {"values": [1.0, 1.2, 1.4, 1.6], "format": ".1f", "title": "Normalized FRET Ratio", "titleFontSize": 22, "titleFontWeight": "normal", "titleColor": "#222", "titleX": -52, "titleY": 100, "titleAngle": -90, "titleBaseline": "middle", "titleAlign": "center", "labelFontSize": 15, "labelColor": "#222", "labelPadding": 3, "tickSize": 10, "tickWidth": 1.5, "tickColor": "#222", "domainColor": "#222", "domainWidth": 2, "grid": false}}}}
]
},
{
"width": 334, "height": 305,
"layer": [
{"data": {"name": "cur"},
 "encoding": {
  "x": {"field": "t", "type": "quantitative", "scale": {"domain": [0, 260], "nice": false, "zero": false}, "axis": null},
  "y": {"field": "v", "type": "quantitative", "scale": {"domain": [-1.1, 0.1], "nice": false, "zero": false},
   "axis": {"values": [-1, -0.75, -0.5, -0.25, 0], "labelExpr": "datum.value == 0 ? '0.00' : '-' + format(abs(datum.value), '.2f')", "title": "Normalized Current", "titleFontSize": 20, "titleFontWeight": "normal", "titleColor": "#222", "titleX": -68, "titleY": 141, "titleAngle": -90, "titleBaseline": "middle", "titleAlign": "center", "labelFontSize": 15, "labelColor": "#222", "labelPadding": 2, "tickSize": 11, "tickWidth": 1.5, "tickColor": "#222", "domainColor": "#222", "domainWidth": 2, "grid": false}}},
 "layer": [
 {"mark": {"type": "line", "strokeWidth": 1},
  "encoding": {
   "stroke": {"field": "s", "type": "nominal", "scale": {"domain": ["Orai1+STIM1)", "Orai1+STIM1+SARAF", "O1+S1+SARAF+FRB/FKB+Rapa", "Orai1+ΔKSTIM1+SARAF"], "range": ["#1a1a1a", "#e43b3b", "#3535e6", "#3a9a3a"]},
    "legend": {"orient": "none", "legendX": 11, "legendY": -71.5, "title": null, "padding": 0, "symbolType": "circle", "symbolSize": 55, "symbolStrokeWidth": 1.3, "labelFontSize": 14, "labelOffset": 3, "rowPadding": 4, "labelColor": {"expr": "['#222222','#e25050','#5050c8','#3f9a3f'][datum.index]"}}}}},
 {"transform": [{"filter": "isValid(datum.eb)"}], "mark": {"type": "rule", "strokeWidth": 1.1},
  "encoding": {
   "y2": {"field": "eb"},
   "stroke": {"field": "s", "type": "nominal", "scale": {"domain": ["Orai1+STIM1)", "Orai1+STIM1+SARAF", "O1+S1+SARAF+FRB/FKB+Rapa", "Orai1+ΔKSTIM1+SARAF"], "range": ["#1a1a1a", "#e43b3b", "#3535e6", "#3a9a3a"]},
    "legend": {"orient": "none", "legendX": 11, "legendY": -71.5, "title": null, "padding": 0, "symbolType": "circle", "symbolSize": 55, "symbolStrokeWidth": 1.3, "labelFontSize": 14, "labelOffset": 3, "rowPadding": 4, "labelColor": {"expr": "['#222222','#e25050','#5050c8','#3f9a3f'][datum.index]"}}}}},
 {"mark": {"type": "point", "shape": "circle", "filled": true, "size": 70, "strokeWidth": 1.3, "opacity": 1},
  "encoding": {
   "stroke": {"field": "s", "type": "nominal", "scale": {"domain": ["Orai1+STIM1)", "Orai1+STIM1+SARAF", "O1+S1+SARAF+FRB/FKB+Rapa", "Orai1+ΔKSTIM1+SARAF"], "range": ["#1a1a1a", "#e43b3b", "#3535e6", "#3a9a3a"]},
    "legend": {"orient": "none", "legendX": 11, "legendY": -71.5, "title": null, "padding": 0, "symbolType": "circle", "symbolSize": 55, "symbolStrokeWidth": 1.3, "labelFontSize": 14, "labelOffset": 3, "rowPadding": 4, "labelColor": {"expr": "['#222222','#e25050','#5050c8','#3f9a3f'][datum.index]"}}},
   "fill": {"field": "s", "type": "nominal", "scale": {"domain": ["Orai1+STIM1)", "Orai1+STIM1+SARAF", "O1+S1+SARAF+FRB/FKB+Rapa", "Orai1+ΔKSTIM1+SARAF"], "range": ["transparent", "transparent", "#3535e6", "transparent"]},
    "legend": {"orient": "none", "legendX": 11, "legendY": -71.5, "title": null, "padding": 0, "symbolType": "circle", "symbolSize": 55, "symbolStrokeWidth": 1.3, "labelFontSize": 14, "labelOffset": 3, "rowPadding": 4, "labelColor": {"expr": "['#222222','#e25050','#5050c8','#3f9a3f'][datum.index]"}}}}}
 ]},
{"data": {"values": [{}]}, "mark": {"type": "rule", "strokeWidth": 3.5, "color": "#111"},
 "encoding": {"x": {"datum": 25.7, "type": "quantitative", "scale": {"domain": [0, 260], "nice": false, "zero": false}, "axis": null}, "x2": {"datum": 260},
  "y": {"datum": -1.043, "type": "quantitative", "scale": {"domain": [-1.1, 0.1], "nice": false, "zero": false},
   "axis": {"values": [-1, -0.75, -0.5, -0.25, 0], "labelExpr": "datum.value == 0 ? '0.00' : '-' + format(abs(datum.value), '.2f')", "title": "Normalized Current", "titleFontSize": 20, "titleFontWeight": "normal", "titleColor": "#222", "titleX": -68, "titleY": 141, "titleAngle": -90, "titleBaseline": "middle", "titleAlign": "center", "labelFontSize": 15, "labelColor": "#222", "labelPadding": 2, "tickSize": 11, "tickWidth": 1.5, "tickColor": "#222", "domainColor": "#222", "domainWidth": 2, "grid": false}}}},
{"data": {"values": [{}]}, "mark": {"type": "rule", "strokeWidth": 1.3, "color": "#555"},
 "encoding": {"x": {"datum": 44.4, "type": "quantitative", "scale": {"domain": [0, 260], "nice": false, "zero": false}, "axis": null}, "x2": {"datum": 104.4},
  "y": {"datum": -0.063, "type": "quantitative", "scale": {"domain": [-1.1, 0.1], "nice": false, "zero": false},
   "axis": {"values": [-1, -0.75, -0.5, -0.25, 0], "labelExpr": "datum.value == 0 ? '0.00' : '-' + format(abs(datum.value), '.2f')", "title": "Normalized Current", "titleFontSize": 20, "titleFontWeight": "normal", "titleColor": "#222", "titleX": -68, "titleY": 141, "titleAngle": -90, "titleBaseline": "middle", "titleAlign": "center", "labelFontSize": 15, "labelColor": "#222", "labelPadding": 2, "tickSize": 11, "tickWidth": 1.5, "tickColor": "#222", "domainColor": "#222", "domainWidth": 2, "grid": false}}}},
{"data": {"values": [{}]}, "mark": {"type": "text", "text": "1 min", "fontSize": 16, "font": "Liberation Sans", "color": "#222", "baseline": "middle", "align": "center"},
 "encoding": {"x": {"datum": 74.8, "type": "quantitative", "scale": {"domain": [0, 260], "nice": false, "zero": false}, "axis": null},
  "y": {"datum": -0.02, "type": "quantitative", "scale": {"domain": [-1.1, 0.1], "nice": false, "zero": false},
   "axis": {"values": [-1, -0.75, -0.5, -0.25, 0], "labelExpr": "datum.value == 0 ? '0.00' : '-' + format(abs(datum.value), '.2f')", "title": "Normalized Current", "titleFontSize": 20, "titleFontWeight": "normal", "titleColor": "#222", "titleX": -68, "titleY": 141, "titleAngle": -90, "titleBaseline": "middle", "titleAlign": "center", "labelFontSize": 15, "labelColor": "#222", "labelPadding": 2, "tickSize": 11, "tickWidth": 1.5, "tickColor": "#222", "domainColor": "#222", "domainWidth": 2, "grid": false}}}},
{"data": {"values": [{}]}, "mark": {"type": "text", "text": "10 mM Ca²⁺", "fontSize": 16, "font": "Liberation Sans", "color": "#222", "baseline": "middle", "align": "center"},
 "encoding": {"x": {"datum": 143.4, "type": "quantitative", "scale": {"domain": [0, 260], "nice": false, "zero": false}, "axis": null},
  "y": {"datum": -1.102, "type": "quantitative", "scale": {"domain": [-1.1, 0.1], "nice": false, "zero": false},
   "axis": {"values": [-1, -0.75, -0.5, -0.25, 0], "labelExpr": "datum.value == 0 ? '0.00' : '-' + format(abs(datum.value), '.2f')", "title": "Normalized Current", "titleFontSize": 20, "titleFontWeight": "normal", "titleColor": "#222", "titleX": -68, "titleY": 141, "titleAngle": -90, "titleBaseline": "middle", "titleAlign": "center", "labelFontSize": 15, "labelColor": "#222", "labelPadding": 2, "tickSize": 11, "tickWidth": 1.5, "tickColor": "#222", "domainColor": "#222", "domainWidth": 2, "grid": false}}}},
{"data": {"values": [{}]}, "mark": {"type": "text", "text": "b", "fontSize": 26, "font": "Liberation Sans", "fontWeight": "bold", "fontStyle": "italic", "color": "#111", "baseline": "middle", "align": "center"},
 "encoding": {"x": {"datum": -20.3, "type": "quantitative", "scale": {"domain": [0, 260], "nice": false, "zero": false}, "axis": null},
  "y": {"datum": 0.24, "type": "quantitative", "scale": {"domain": [-1.1, 0.1], "nice": false, "zero": false},
   "axis": {"values": [-1, -0.75, -0.5, -0.25, 0], "labelExpr": "datum.value == 0 ? '0.00' : '-' + format(abs(datum.value), '.2f')", "title": "Normalized Current", "titleFontSize": 20, "titleFontWeight": "normal", "titleColor": "#222", "titleX": -68, "titleY": 141, "titleAngle": -90, "titleBaseline": "middle", "titleAlign": "center", "labelFontSize": 15, "labelColor": "#222", "labelPadding": 2, "tickSize": 11, "tickWidth": 1.5, "tickColor": "#222", "domainColor": "#222", "domainWidth": 2, "grid": false}}}}
]
}
]
}
